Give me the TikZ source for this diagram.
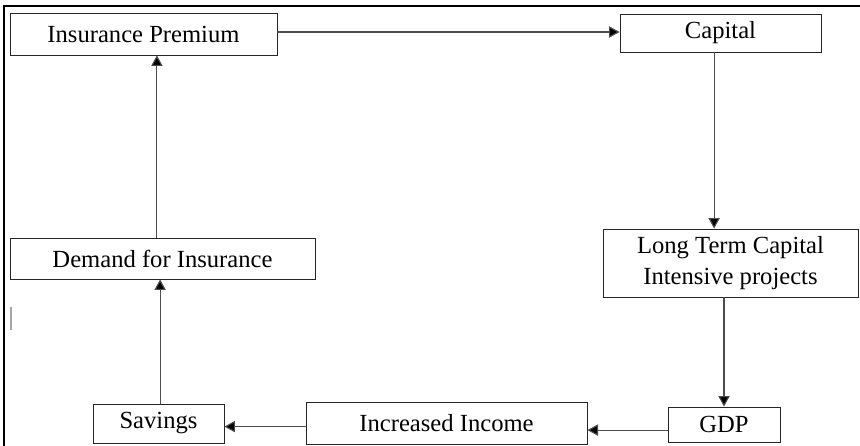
\documentclass[tikz,border=0pt]{standalone}
\usepackage{fontspec}
\setmainfont{Liberation Serif}
\usetikzlibrary{arrows.meta}

\begin{document}
\begin{tikzpicture}[x=0.025cm,y=-0.025cm,
  box/.style={draw=black!85,line width=0.6pt,inner sep=0pt,align=center,
    font=\fontsize{17.5}{22.5}\selectfont},
  arr/.style={draw=black!70,line width=0.8pt,-{Triangle[length=7.5pt,width=8pt,fill=black]}}]
\useasboundingbox (0,0) rectangle (860,446);
%\draw[help lines] (0,0) grid (860,446);

% frame
\draw[line width=1.4pt] (4,446) -- (4,6) -- (860,6);
\draw[black!35,line width=0.8pt] (11,307) -- (11,330);

\node[box,minimum width=6.675cm,minimum height=1.05cm] (prem) at (143.5,34) {Insurance Premium};
\node[box,minimum width=5.025cm,minimum height=0.95cm] (cap) at (720.5,33) {Capital};
\node[box,minimum width=6.375cm,minimum height=1.7cm] (ltc) at (730.5,263) {Long Term Capital\\Intensive projects};
\node[box,minimum width=2.8cm,minimum height=0.875cm] (gdp) at (724,424.5) {GDP};
\node[box,minimum width=7.025cm,minimum height=1.05cm] (inc) at (446.5,423) {Increased Income};
\node[box,minimum width=3.275cm,minimum height=0.975cm] (sav) at (158.5,423.5) {Savings};
\node[box,minimum width=7.625cm,minimum height=1.025cm] (dem) at (162.5,258.5) {Demand for Insurance};

\draw[arr] ([yshift=0.05cm]prem.east) -- ([yshift=0.05cm]prem.east -| cap.west);
\draw[arr] ([xshift=-0.16cm]cap.south) -- ([xshift=-0.16cm]cap.south |- ltc.north);
\draw[arr] (ltc.south -| gdp.north) -- (gdp.north);
\draw[arr] ([yshift=-0.14cm]gdp.west) -- ([yshift=-0.14cm]gdp.west -| inc.east);
\draw[arr] ([yshift=-0.09cm]inc.west) -- ([yshift=-0.09cm]inc.west -| sav.east);
\draw[arr] ([xshift=0.04cm]sav.north) -- ([xshift=0.04cm]sav.north |- dem.south);
\draw[arr] ([xshift=-0.14cm]dem.north) -- ([xshift=-0.14cm]dem.north |- prem.south);

\end{tikzpicture}
\end{document}
